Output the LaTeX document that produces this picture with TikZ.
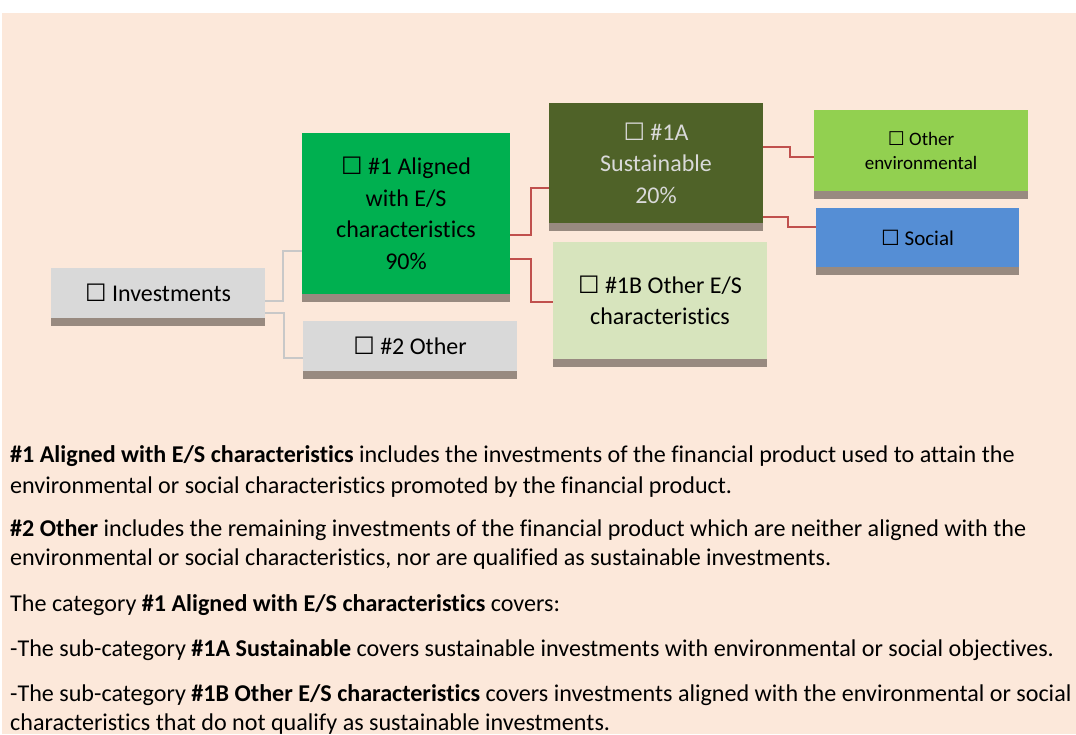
\documentclass[tikz,border=0pt]{standalone}
\usepackage{fontspec}
\setmainfont{Carlito}[Ligatures=NoCommon]
\newfontfamily\symfont{DejaVu Sans}
\usetikzlibrary{positioning}

\definecolor{pagebg}{RGB}{252,232,218}
\definecolor{boxgrey}{RGB}{217,217,217}
\definecolor{shadebar}{RGB}{152,138,128}
\definecolor{alignedgreen}{RGB}{0,176,80}
\definecolor{sustolive}{RGB}{79,98,40}
\definecolor{envlime}{RGB}{146,208,80}
\definecolor{paleolive}{RGB}{215,228,189}
\definecolor{socialblue}{RGB}{85,142,213}
\definecolor{linkred}{RGB}{192,80,77}
\definecolor{linkgrey}{RGB}{200,200,200}

\newcommand{\ballot}{{\symfont ☐}}

\tikzset{
  catbox/.style={rectangle, inner sep=0pt, align=center, font=\fontsize{24}{31.5}\selectfont},
  bodyline/.style={anchor=base west, inner sep=0pt, font=\fontsize{24.1}{28}\selectfont},
  greylink/.style={linkgrey, line width=2pt},
  redlink/.style={linkred, line width=1.6pt}
}

\begin{document}
\begin{tikzpicture}[x=1pt, y=-1pt]
  \useasboundingbox (0,0) rectangle (1076,734);
  \clip (0,0) rectangle (1076,734);
  \fill[pagebg] (2,13) rectangle (1076,734);

  % categories
  \node[catbox, fill=boxgrey, minimum width=214pt, minimum height=50pt] (inv) at (158,293) {\ballot{} Investments};
  \node[catbox, fill=alignedgreen, minimum width=208pt, minimum height=161pt] (al) at (406,213.5) {\ballot{} \#1 Aligned\\with E/S\\characteristics\\90\%};
  \node[catbox, fill=boxgrey, minimum width=214pt, minimum height=50pt] (oth) at (410,346) {\ballot{} \#2 Other};
  \node[catbox, fill=sustolive, text=boxgrey, minimum width=214pt, minimum height=120pt] (sus) at (656,163) {\ballot{} \#1A\\Sustainable\\20\%};
  \node[catbox, fill=paleolive, minimum width=214pt, minimum height=117pt] (ch) at (660,300.5) {\ballot{} \#1B Other E/S\\characteristics};
  \node[catbox, fill=envlime, minimum width=214pt, minimum height=81pt, font=\fontsize{19}{24}\selectfont] (env) at (921,150.5) {\ballot{} Other\\environmental};
  \node[catbox, fill=socialblue, minimum width=203pt, minimum height=59pt, font=\fontsize{21}{24}\selectfont] (soc) at (917.5,237.5) {\ballot{} Social};

  \foreach \n in {inv,al,oth,sus,ch,env,soc}
    \fill[shadebar] (\n.south west) rectangle ([yshift=-8pt]\n.south east);

  % links
  \draw[greylink] ([yshift=-8pt]inv.east) -- ++(18,0) |- ([yshift=-37.5pt]al.west);
  \draw[greylink] ([yshift=-20pt]inv.east) -- ++(19,0) |- ([yshift=-12pt]oth.west);
  \draw[redlink] ([yshift=-21.5pt]al.east) -- ++(21,0) |- ([yshift=-25pt]sus.west);
  \draw[redlink] ([yshift=-45.5pt]al.east) -- ++(21,0) |- ([yshift=-1.5pt]ch.west);
  \draw[redlink] ([yshift=16pt]sus.east) -- ++(27,0) |- ([yshift=-6.5pt]env.west);
  \draw[redlink] ([yshift=-54pt]sus.east) -- ++(25,0) |- ([yshift=10.5pt]soc.west);

  % explanation
  \node[bodyline] (t1) at (10,462) {\textbf{\#1 Aligned with E/S characteristics} includes the investments of the financial product used to attain the};
  \node[bodyline] (t2) at (10,493) {environmental or social characteristics promoted by the financial product.};
  \node[bodyline] (t3) at (10,536) {\textbf{\#2 Other} includes the remaining investments of the financial product which are neither aligned with the};
  \node[bodyline] (t4) at (10,565) {environmental or social characteristics, nor are qualified as sustainable investments.};
  \node[bodyline] (t5) at (10,611) {The category \textbf{\#1 Aligned with E/S characteristics} covers:};
  \node[bodyline] (t6) at (10,656) {-The sub-category \textbf{\#1A Sustainable} covers sustainable investments with environmental or social objectives.};
  \node[bodyline] (t7) at (10,701) {-The sub-category \textbf{\#1B Other E/S characteristics} covers investments aligned with the environmental or social};
  \node[bodyline] (t8) at (10,730) {characteristics that do not qualify as sustainable investments.};
\end{tikzpicture}
\end{document}
